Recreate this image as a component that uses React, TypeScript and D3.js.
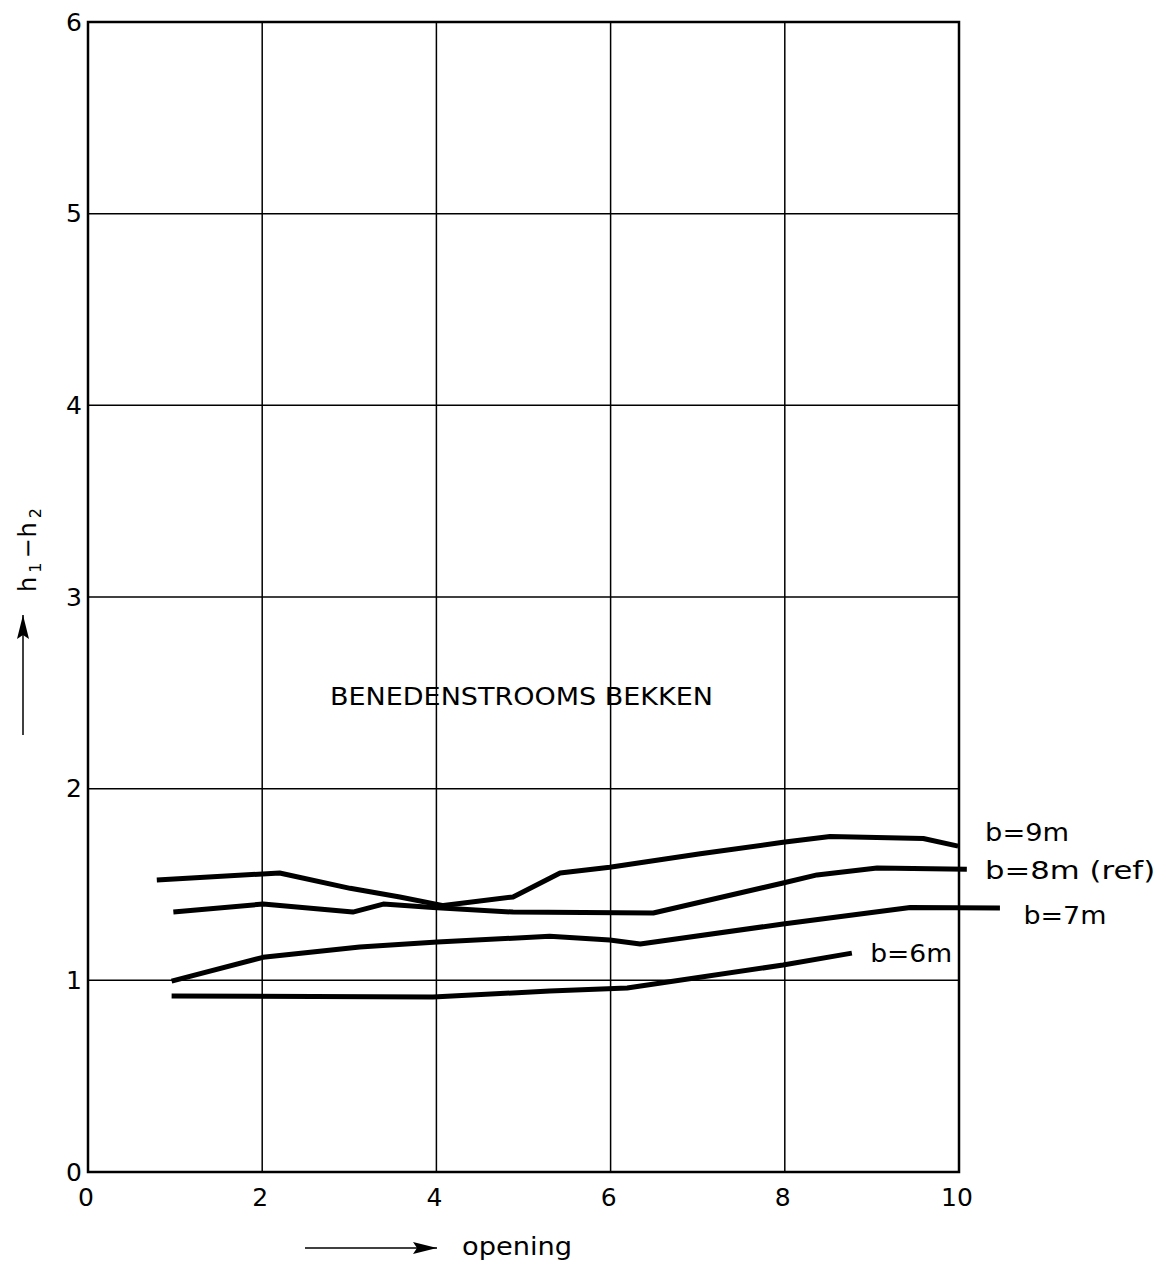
import React from "react";
import * as d3 from "d3";

const xTicks = [0, 2, 4, 6, 8, 10];
const yTicks = [0, 1, 2, 3, 4, 5, 6];

const b9x = [0.79, 2.2, 3.01, 3.58, 4.08, 4.88, 5.42, 5.99, 7.03, 7.98, 8.52, 9.59, 9.99];
const b9y = [1.523, 1.56, 1.48, 1.435, 1.39, 1.435, 1.56, 1.59, 1.66, 1.72, 1.75, 1.74, 1.7];

const b8x = [0.98, 2.01, 3.04, 3.39, 3.96, 4.88, 6.49, 7.98, 8.37, 9.06, 10.09];
const b8y = [1.356, 1.398, 1.356, 1.398, 1.38, 1.356, 1.351, 1.508, 1.55, 1.586, 1.58];

const b7x = [0.96, 2.01, 3.12, 4.01, 5.3, 5.99, 6.34, 7.98, 9.44, 10.47];
const b7y = [0.996, 1.12, 1.174, 1.2, 1.23, 1.21, 1.19, 1.294, 1.38, 1.377];

const b6x = [0.96, 3.96, 5.3, 6.19, 7.98, 8.77];
const b6y = [0.918, 0.913, 0.944, 0.96, 1.08, 1.142];

const seriesLabels = ["b=9m", "b=8m (ref)", "b=7m", "b=6m"];
const labelX = [10.3, 10.3, 10.74, 8.98];
const labelY = [1.77, 1.57, 1.34, 1.14];

export default function App() {
  const W = 1166, H = 1265;
  const x = d3.scaleLinear().domain([0, 10]).range([88, 959]);
  const y = d3.scaleLinear().domain([0, 6]).range([1172, 22]);
  const line = d3.line<[number, number]>().x(d => x(d[0])).y(d => y(d[1]));
  const series = [
    b9x.map((v, i) => [v, b9y[i]] as [number, number]),
    b8x.map((v, i) => [v, b8y[i]] as [number, number]),
    b7x.map((v, i) => [v, b7y[i]] as [number, number]),
    b6x.map((v, i) => [v, b6y[i]] as [number, number]),
  ];
  const labelW = [84, 170, 83, 82];
  const font = "'DejaVu Sans', 'Liberation Sans', sans-serif";
  return (
    <svg width={W} height={H} style={{ position: "absolute", left: 0, top: 0, background: "#fff" }} fontFamily={font}>
      <defs>
        <marker id="ah" viewBox="0 0 24 12" refX="24" refY="6" markerWidth="24" markerHeight="12" markerUnits="userSpaceOnUse" orient="auto">
          <path d="M0,0 L24,6 L0,12 L4,6 Z" fill="#000" />
        </marker>
      </defs>
      {/* grid */}
      {xTicks.slice(1, -1).map(t => (
        <line key={"gx" + t} x1={x(t)} x2={x(t)} y1={y(0)} y2={y(6)} stroke="#000" strokeWidth={1.5} />
      ))}
      {yTicks.slice(1, -1).map(t => (
        <line key={"gy" + t} x1={x(0)} x2={x(10)} y1={y(t)} y2={y(t)} stroke="#000" strokeWidth={1.5} />
      ))}
      <rect x={x(0)} y={y(6)} width={x(10) - x(0)} height={y(0) - y(6)} fill="none" stroke="#000" strokeWidth={2.5} />
      {/* tick labels */}
      {yTicks.map(t => (
        <text key={"ty" + t} x={x(0) - 6} y={y(t)} dy="0.35em" textAnchor="end" fontSize={25}>{t}</text>
      ))}
      {xTicks.map(t => (
        <text key={"tx" + t} x={x(t) - 2} y={y(0) + 34} textAnchor="middle" fontSize={25}>{t}</text>
      ))}
      {/* curves */}
      {series.map((s, i) => (
        <path key={"s" + i} d={line(s) || ""} fill="none" stroke="#000" strokeWidth={5} strokeLinejoin="round" />
      ))}
      {seriesLabels.map((l, i) => (
        <text key={"l" + i} x={x(labelX[i])} y={y(labelY[i])} dy="0.35em" fontSize={24} textLength={labelW[i]} lengthAdjust="spacingAndGlyphs">{l}</text>
      ))}
      <text x={330} y={697} dy="0.35em" fontSize={24} textLength={383} lengthAdjust="spacingAndGlyphs">BENEDENSTROOMS BEKKEN</text>
      {/* x axis title */}
      <line x1={305} x2={437} y1={1248} y2={1248} stroke="#000" strokeWidth={1.5} markerEnd="url(#ah)" />
      <text x={462} y={1248} dy="0.3em" fontSize={24} textLength={110} lengthAdjust="spacingAndGlyphs">opening</text>
      {/* y axis title */}
      <line x1={23} x2={23} y1={735} y2={615} stroke="#000" strokeWidth={1.5} markerEnd="url(#ah)" />
      <text transform="translate(36,592) rotate(-90)" fontSize={24} letterSpacing={1}>
        <tspan>h</tspan><tspan fontSize={16} dy={5} dx={3}>1</tspan><tspan dy={-5} dx={3}>−h</tspan><tspan fontSize={16} dy={5} dx={3}>2</tspan>
      </text>
    </svg>
  );
}
